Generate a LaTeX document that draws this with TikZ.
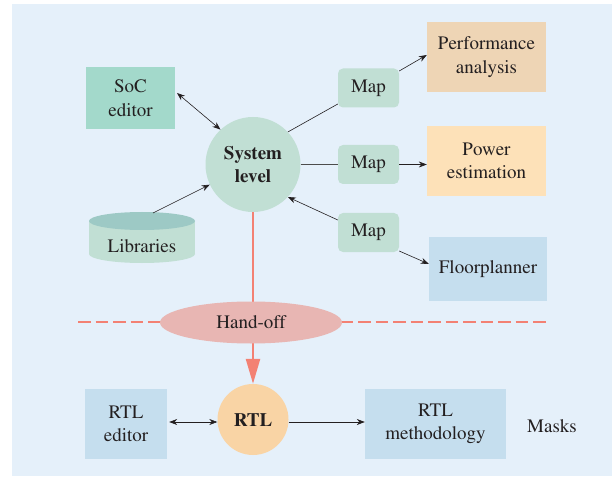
\documentclass[tikz,border=0pt]{standalone}
\usepackage[T1]{fontenc}
\usepackage{times}
\usetikzlibrary{arrows.meta,shapes.geometric}
\definecolor{bgc}{HTML}{E5F0FA}
\definecolor{socc}{HTML}{A3D9CB}
\definecolor{sysc}{HTML}{C1DFD4}
\definecolor{perfc}{HTML}{EED5B5}
\definecolor{powc}{HTML}{FDE1B8}
\definecolor{floorc}{HTML}{C5DEEE}
\definecolor{handc}{HTML}{E8B6B3}
\definecolor{rtlc}{HTML}{F9D4A5}
\definecolor{redc}{HTML}{F38173}
\definecolor{libtopc}{HTML}{9DC9C5}
\definecolor{txtc}{HTML}{231F20}
\begin{document}
\begin{tikzpicture}[x=1pt,y=-1pt,
  font=\fontsize{19}{23.5}\selectfont, text=txtc,
  box/.style={draw=none, inner sep=0pt, align=center},
  mapbox/.style={box, fill=sysc, rounded corners=5pt, minimum width=61, minimum height=39},
  arr/.style={-{Stealth[length=8pt,width=6pt]}, line width=0.6pt, draw=txtc},
  darr/.style={{Stealth[length=8pt,width=6pt]}-{Stealth[length=8pt,width=6pt]}, line width=0.6pt, draw=txtc},
  ln/.style={line width=0.6pt, draw=txtc}]
\useasboundingbox (0,0) rectangle (615,478);
\fill[bgc] (12,4) rectangle (612,476);
% dashed line
\draw[redc, line width=2.5pt, dash pattern=on 12.5pt off 5pt] (78,322) -- (549,322);
% nodes
\node[box, fill=socc, minimum width=89, minimum height=62] (soc) at (130.5,98) {SoC\\editor};
\node[circle, fill=sysc, minimum size=95, inner sep=0pt, align=center, font=\fontsize{19}{23.5}\selectfont\bfseries] (sys) at (253,164.5) {System\\level};
% libraries cylinder
\fill[sysc] (89,221) rectangle (195,254);
\fill[sysc] (142,254) ellipse [x radius=53, y radius=9];
\fill[libtopc] (142,221) ellipse [x radius=53, y radius=9];
\node[box] (lib) at (142,246) {Libraries};
\coordinate (libtop) at (153,213);
\node[mapbox] (map1) at (368.5,88) {Map};
\node[mapbox] (map2) at (368.5,164.5) {Map};
\node[mapbox] (map3) at (368.5,232.5) {Map};
\node[box, fill=perfc, minimum width=119, minimum height=70] (perf) at (486.5,57) {Performance\\analysis};
\node[box, fill=powc, minimum width=119, minimum height=70] (pow) at (486.5,161) {Power\\estimation};
\node[box, fill=floorc, minimum width=118, minimum height=64] (floor) at (488,269) {Floorplanner};
\node[circle, fill=rtlc, minimum size=71, inner sep=0pt, font=\fontsize{19}{23.5}\selectfont\bfseries] (rtl) at (253,419.5) {RTL};
\draw[redc, line width=2.5pt, -{Triangle[length=25pt,width=14pt]}] (sys.south) -- (rtl.north);
\node[ellipse, fill=handc, minimum width=182, minimum height=42, inner sep=0pt] (hand) at (251,322.5) {Hand-off};
\node[box, fill=floorc, minimum width=82, minimum height=70] (rtled) at (126,424) {RTL\\editor};
\node[box, fill=floorc, minimum width=141, minimum height=70] (meth) at (435.5,424) {RTL\\methodology};
\node[box] (masks) at (552,426) {Masks};
% connectors
\draw[darr] (177,93) -- (sys.133);
\draw[arr] (libtop) -- (sys.205);
\draw[ln] (sys.43) -- (map1.west |- 0,104);
\draw[arr] (map1.east |- 0,71) -- (perf.west |- 0,55);
\draw[ln, draw=black!70, line width=1.2pt] (sys.east) -- (map2.west);
\draw[arr] (map2.east) -- (pow.west |- map2.east);
\draw[arr] (map3.west |- 0,220) -- (sys.317);
\draw[arr] (map3.east |- 0,251) -- (floor.west |- 0,264);
\draw[darr] ([xshift=2pt]rtled.east |- 0,422) -- (rtl.west |- 0,422);
\draw[arr] (rtl.east |- 0,422) -- (meth.west |- 0,422);
\end{tikzpicture}
\end{document}
